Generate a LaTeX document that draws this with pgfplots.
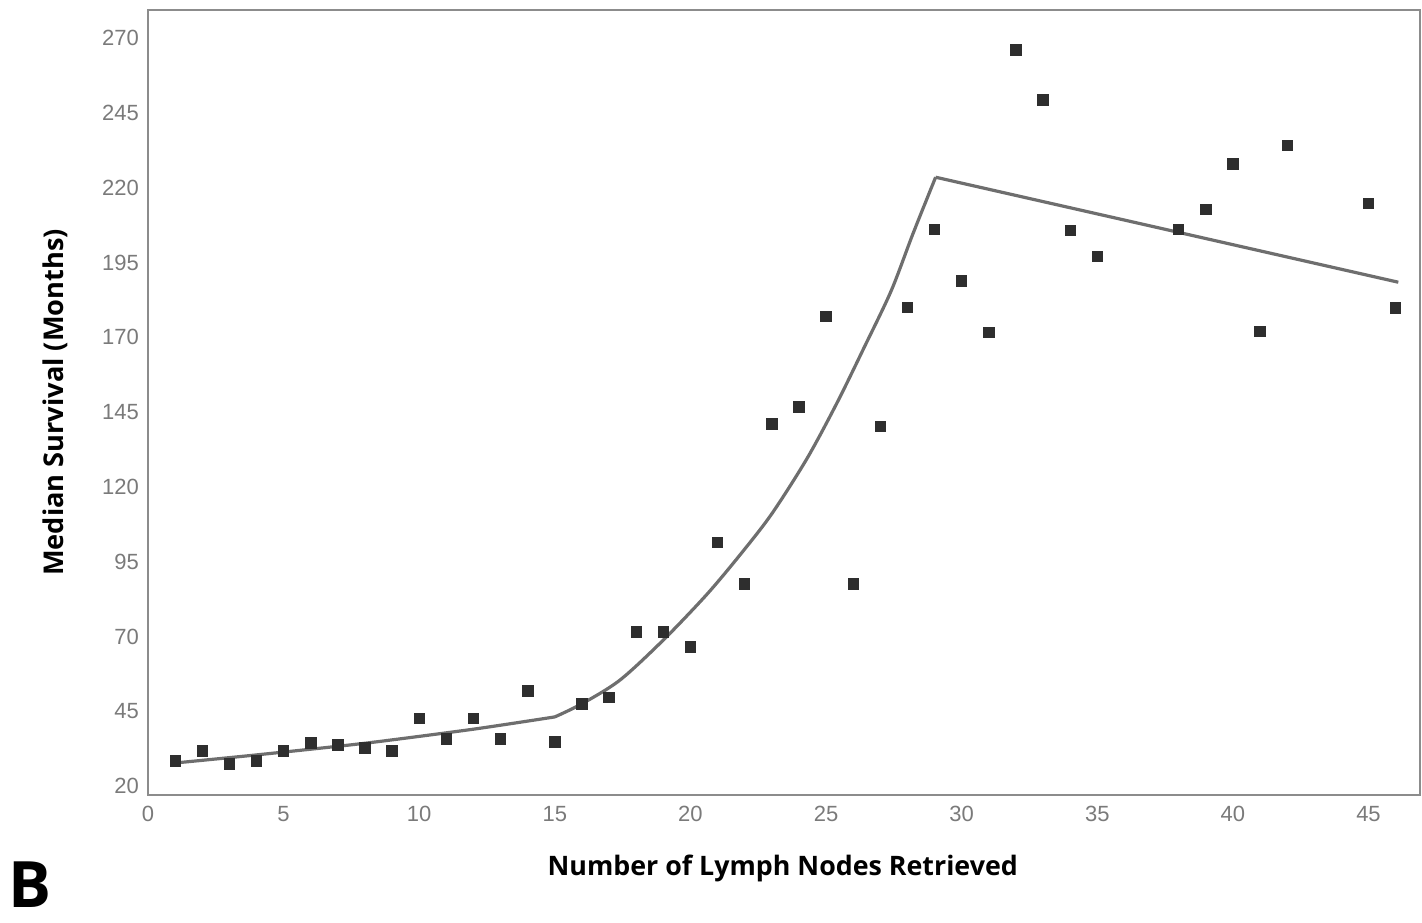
\documentclass[border=0pt]{standalone}
\usepackage{pgfplots}
\pgfplotsset{compat=1.18}
\usepackage{fontspec}
\setmainfont{Open Sans}
\newfontfamily\tickfont{Liberation Sans}
\definecolor{framegray}{HTML}{8C8C8C}
\definecolor{linegray}{HTML}{6E6E6E}
\definecolor{markdark}{HTML}{2E2E2E}
\definecolor{ticktext}{HTML}{7A7A7A}
\begin{document}
\begin{tikzpicture}
\begin{axis}[
  scale only axis,
  width=636pt, height=392.5pt,
  xmin=0, xmax=46.9, ymin=17, ymax=279.4,
  xtick={0,5,...,45},
  ytick={20,45,...,270},
  major tick length=0pt,
  axis line style={framegray, line width=1.3pt},
  tick label style={font=\tickfont\fontsize{11}{12}\selectfont, text=ticktext},
  /pgf/number format/assume math mode=true,
  xticklabel style={yshift=-2pt},
  yticklabel style={xshift=-1pt},
  xlabel={Number of Lymph Nodes Retrieved},
  ylabel={Median Survival (Months)},
  every axis x label/.style={at={(axis description cs:0.499,-0.093)}, anchor=center, font=\bfseries\fontsize{13.4}{15}\selectfont},
  every axis y label/.style={at={(axis description cs:-0.073,0.5)}, anchor=center, rotate=90, font=\bfseries\fontsize{13.6}{15}\selectfont},
  clip=false,
]
% fitted curve: three segments
\addplot[linegray, line width=1.6pt, mark=none, smooth, tension=0.4] coordinates {
 (1,27.7) (4,30.4) (8,34.3) (12,39.0) (15,43.1)
};
\addplot[linegray, line width=1.6pt, mark=none, smooth, tension=0.5] coordinates {
 (15,43.1) (16,47.5) (17.4,55.4) (19,68.8) (20.6,84.0) (21.85,97.5) (23,111) (24.3,129.5)
 (25.4,148) (26.4,166.5) (27.4,185.5) (28.2,204.5) (29.04,223.5)
};
\addplot[linegray, line width=1.6pt, mark=none] coordinates {
 (29.04,223.5) (46.1,188.4)
};
% observed points
\addplot[only marks, mark=square*, mark size=2.6pt, color=markdark] coordinates {
 (1,28.4) (2,31.7) (3,27.4) (4,28.4) (5,31.7) (6,34.4) (7,33.7) (8,32.7) (9,31.7)
 (10,42.7) (11,35.7) (12,42.7) (13,35.7) (14,51.8) (15,34.7) (16,47.4) (17,49.7)
 (18,71.5) (19,71.5) (20,66.5) (21,101.5) (22,87.5) (23,141) (24,146.7) (25,177)
 (26,87.5) (27,140.3) (28,180) (29,206) (30,188.8) (31,171.7) (32,266) (33,249.3)
 (34,205.8) (35,197) (38,206) (39,212.8) (40,227.9) (41,172) (42,234.2) (45,214.8)
 (46,179.8)
};
\node[font=\bfseries\fontsize{32}{34}\selectfont, anchor=center] at (axis description cs:-0.0928,-0.1146) {B};
\path (axis description cs:0,0) ++(-74pt,-64pt) coordinate (bl);
\path (axis description cs:1,1) ++(1pt,5pt) coordinate (tr);
\path (bl) rectangle (tr);
\end{axis}
\end{tikzpicture}
\end{document}
